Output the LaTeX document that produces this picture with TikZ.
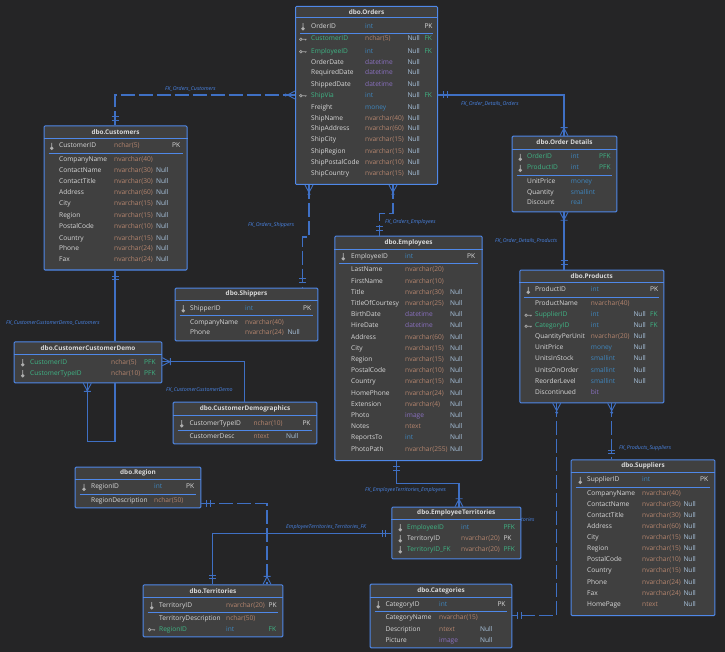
\documentclass[tikz,border=0pt]{standalone}
\usepackage{fontspec}
\setmainfont{Open Sans}
\usetikzlibrary{calc}
\definecolor{bgdark}{HTML}{252526}
\definecolor{boxfill}{HTML}{404040}
\definecolor{boxline}{HTML}{4F88E8}
\definecolor{linkblue}{HTML}{3F70C4}
\definecolor{labelblue}{HTML}{4A86E8}
\definecolor{fieldwhite}{HTML}{D9D9D9}
\definecolor{fieldgreen}{HTML}{3FB585}
\definecolor{typesalmon}{HTML}{B5856E}
\definecolor{typeblue}{HTML}{3F86BE}
\definecolor{typepurple}{HTML}{8A70C0}
\definecolor{nullblue}{HTML}{A9C4DE}
\tikzset{
  tablebox/.style={draw=boxline, fill=boxfill, line width=1pt, rounded corners=1pt, inner sep=0pt, anchor=north west},
  tablerule/.style={draw=boxline, line width=1pt},
  celltext/.style={inner sep=0pt, anchor=west, font=\fontsize{6.6}{7}\selectfont, text height=4.6pt, text depth=1.3pt},
  tabletitle/.style={inner sep=0pt, font=\fontsize{6.4}{7}\selectfont\bfseries, text=fieldwhite},
  vc/.style={celltext, text=typesalmon},
  nm/.style={celltext, text=typeblue},
  dt/.style={celltext, text=typepurple},
  nullcell/.style={celltext, text=nullblue},
  pkname/.style={celltext, text=fieldwhite},
  pkkey/.style={celltext, text=fieldwhite},
  pkicon/.style={draw=fieldwhite!80!black, fill=fieldwhite!80!black, line width=.8pt, insert path={+(0,-3.5) -- +(0,1.2) +(0,2) circle[radius=1.3pt]}},
  pfname/.style={celltext, text=fieldgreen},
  pfkey/.style={celltext, text=fieldgreen},
  pficon/.style={pkicon},
  fkname/.style={celltext, text=fieldgreen},
  fkkey/.style={celltext, text=fieldgreen},
  fkicon/.style={draw=gray!70, line width=.7pt, insert path={+(-2.2,0) circle[radius=1.3pt] +(-.9,0) -- +(3.5,0) +(2.5,0) -- +(2.5,1)}},
  noname/.style={celltext, text=fieldwhite},
  nokey/.style={celltext},
  noicon/.style={},
  fklink/.style={draw=linkblue, line width=1.2pt},
  fkdash/.style={fklink, dash pattern=on 14pt off 4pt},
  fklabel/.style={inner sep=0pt, anchor=west, text=labelblue, font=\fontsize{5.3}{6}\selectfont\itshape},
  markline/.style={draw=linkblue, line width=.9pt},
  pics/twobars/.style={code={\draw[markline] (5.5,-3.5) -- (5.5,3.5) (9,-3.5) -- (9,3.5);}},
  pics/crowbar/.style={code={\draw[markline] (0,-4) -- (7.5,0) -- (0,4) (8,-3.5) -- (8,3.5);}},
  pics/crowdot/.style={code={\draw[markline] (0,-4) -- (7.5,0) -- (0,4); \fill[linkblue] (9.3,0) circle[radius=1.6pt];}},
}
% name, left, top, width, height, title, title rule y, key rule y
\newcommand{\ertable}[8]{
  \node[tablebox, minimum width=#4pt, minimum height=#5pt] (#1) at (#2,#3) {};
  \draw[tablerule] (#1.west |- 0,#7) -- (#1.east |- 0,#7);
  \node[tabletitle] (#1-title) at ($(#1.north)!.5!(#1.north |- 0,#7)$) {#6};
  \draw[tablerule] ($(#1.west |- 0,#8)+(5,0)$) -- ($(#1.east |- 0,#8)+(-5,0)$);
}
% table, icon x, name x, type x, null x, key x, rows
\newcommand{\fieldrows}[7]{
  \foreach \rowY/\rowKind/\rowName/\rowType/\rowTone/\rowNull/\rowKey [count=\c] in {#7} {
    \path (#2,\rowY) [\rowKind icon];
    \node[\rowKind name] (#1-\c-name) at (#3,\rowY) {\rowName};
    \node[\rowTone] (#1-\c-type) at (#4,\rowY) {\rowType};
    \node[nullcell] (#1-\c-null) at (#5,\rowY) {\rowNull};
    \node[\rowKind key] (#1-\c-key) at (#6,\rowY) {\rowKey};
  }
}
\begin{document}
\begin{tikzpicture}[x=1pt, y=-1pt]
\path[use as bounding box, fill=bgdark] (0,0) rectangle (725,652);

\ertable{Orders}{295}{6}{142}{178}{dbo.Orders}{18}{33.3}
\fieldrows{Orders}{303}{311}{365}{407.3}{424.3}{
  26.7/pk/OrderID/int/nm//PK,
  39.3/fk/CustomerID/nchar(5)/vc/Null/FK,
  51.7/fk/EmployeeID/int/nm/Null/FK,
  62.7/no/OrderDate/datetime/dt/Null/,
  73.3/no/RequiredDate/datetime/dt/Null/,
  84.7/no/ShippedDate/datetime/dt/Null/,
  95.7/fk/ShipVia/int/nm/Null/FK,
  107.7/no/Freight/money/nm/Null/,
  118.7/no/ShipName/nvarchar(40)/vc/Null/,
  129.3/no/ShipAddress/nvarchar(60)/vc/Null/,
  140.3/no/ShipCity/nvarchar(15)/vc/Null/,
  151.7/no/ShipRegion/nvarchar(15)/vc/Null/,
  163.3/no/ShipPostalCode/nvarchar(10)/vc/Null/,
  174.3/no/ShipCountry/nvarchar(15)/vc/Null/}

\ertable{Customers}{43.5}{125.5}{143}{144}{dbo.Customers}{138.7}{153.3}
\fieldrows{Customers}{51.7}{59}{114}{156}{172}{
  146.3/pk/CustomerID/nchar(5)/vc//PK,
  159.7/no/CompanyName/nvarchar(40)/vc//,
  170.7/no/ContactName/nvarchar(30)/vc/Null/,
  182.3/no/ContactTitle/nvarchar(30)/vc/Null/,
  193.3/no/Address/nvarchar(60)/vc/Null/,
  204.3/no/City/nvarchar(15)/vc/Null/,
  215.7/no/Region/nvarchar(15)/vc/Null/,
  226.7/no/PostalCode/nvarchar(10)/vc/Null/,
  238.7/no/Country/nvarchar(15)/vc/Null/,
  249.3/no/Phone/nvarchar(24)/vc/Null/,
  260.3/no/Fax/nvarchar(24)/vc/Null/}

\ertable{Demo}{13.7}{341.3}{147.6}{41}{dbo.CustomerCustomerDemo}{354.7}{354.7}
\fieldrows{Demo}{22.7}{30}{111}{144}{144}{
  362.7/pf/CustomerID/nchar(5)/vc//PFK,
  373.7/pf/CustomerTypeID/nchar(10)/vc//PFK}

\ertable{Shippers}{174.7}{287.7}{142.6}{52.6}{dbo.Shippers}{300.7}{315.3}
\fieldrows{Shippers}{183.3}{190}{245}{287.3}{303}{
  308.7/pk/ShipperID/int/nm//PK,
  322.7/no/CompanyName/nvarchar(40)/vc//,
  333.3/no/Phone/nvarchar(24)/vc/Null/}

\ertable{Demographics}{172.7}{401.7}{143.6}{41.6}{dbo.CustomerDemographics}{415}{430.3}
\fieldrows{Demographics}{181.7}{189.3}{253.3}{286}{302.3}{
  423.7/pk/CustomerTypeID/nchar(10)/vc//PK,
  436.7/no/CustomerDesc/ntext/vc/Null/}

\ertable{Employees}{334.3}{235.7}{147.4}{224.3}{dbo.Employees}{249.7}{263.3}
\fieldrows{Employees}{343.3}{351}{405}{450}{467}{
  256.7/pk/EmployeeID/int/nm//PK,
  269.7/no/LastName/nvarchar(20)/vc//,
  281.7/no/FirstName/nvarchar(10)/vc//,
  292.7/no/Title/nvarchar(30)/vc/Null/,
  303.7/no/TitleOfCourtesy/nvarchar(25)/vc/Null/,
  314.7/no/BirthDate/datetime/dt/Null/,
  325.7/no/HireDate/datetime/dt/Null/,
  337.7/no/Address/nvarchar(60)/vc/Null/,
  348.7/no/City/nvarchar(15)/vc/Null/,
  359.7/no/Region/nvarchar(15)/vc/Null/,
  370.7/no/PostalCode/nvarchar(10)/vc/Null/,
  381.7/no/Country/nvarchar(15)/vc/Null/,
  393.7/no/HomePhone/nvarchar(24)/vc/Null/,
  404.7/no/Extension/nvarchar(4)/vc/Null/,
  415.7/no/Photo/image/dt/Null/,
  426.7/no/Notes/ntext/vc/Null/,
  437.7/no/ReportsTo/int/nm/Null/,
  449.7/no/PhotoPath/nvarchar(255)/vc/Null/}

\ertable{Details}{511.7}{135.7}{104.6}{75.6}{dbo.Order Details}{149.3}{175.7}
\fieldrows{Details}{520.3}{527}{570.7}{599}{599}{
  157.3/pf/OrderID/int/nm//PFK,
  168.3/pf/ProductID/int/nm//PFK,
  181.7/no/UnitPrice/money/nm//,
  192.7/no/Quantity/smallint/nm//,
  203.3/no/Discount/real/nm//}

\ertable{Products}{519.3}{269.7}{144}{132.6}{dbo.Products}{282.7}{297.3}
\fieldrows{Products}{528.3}{535}{590.7}{633.3}{650}{
  290.3/pk/ProductID/int/nm//PK,
  303.7/no/ProductName/nvarchar(40)/vc//,
  315.3/fk/SupplierID/int/nm/Null/FK,
  326.3/fk/CategoryID/int/nm/Null/FK,
  337.3/no/QuantityPerUnit/nvarchar(20)/vc/Null/,
  348.3/no/UnitPrice/money/nm/Null/,
  359.3/no/UnitsInStock/smallint/nm/Null/,
  371.3/no/UnitsOnOrder/smallint/nm/Null/,
  382.3/no/ReorderLevel/smallint/nm/Null/,
  393.3/no/Discontinued/bit/dt//}

\ertable{Suppliers}{570.7}{459.3}{143.6}{155.7}{dbo.Suppliers}{472.3}{487.3}
\fieldrows{Suppliers}{580.3}{587}{642}{683.3}{700}{
  480.3/pk/SupplierID/int/nm//PK,
  493.7/no/CompanyName/nvarchar(40)/vc//,
  504.7/no/ContactName/nvarchar(30)/vc/Null/,
  515.7/no/ContactTitle/nvarchar(30)/vc/Null/,
  527.3/no/Address/nvarchar(60)/vc/Null/,
  538.3/no/City/nvarchar(15)/vc/Null/,
  549.3/no/Region/nvarchar(15)/vc/Null/,
  560.3/no/PostalCode/nvarchar(10)/vc/Null/,
  571.3/no/Country/nvarchar(15)/vc/Null/,
  583.3/no/Phone/nvarchar(24)/vc/Null/,
  594.3/no/Fax/nvarchar(24)/vc/Null/,
  605.3/no/HomePage/ntext/vc/Null/}

\ertable{Region}{74.7}{466.7}{125.6}{40.6}{dbo.Region}{479.3}{494.3}
\fieldrows{Region}{84}{91}{154}{186}{186}{
  487.3/pk/RegionID/int/nm//PK,
  500.7/no/RegionDescription/nchar(50)/vc//}

\ertable{Territories}{142.7}{584.3}{139.6}{52}{dbo.Territories}{597.7}{612.3}
\fieldrows{Territories}{151.7}{159}{226}{268}{268.5}{
  605.7/pk/TerritoryID/nvarchar(20)/vc//PK,
  618.7/no/TerritoryDescription/nchar(50)/vc//,
  629.7/fk/RegionID/int/nm//FK}

\ertable{EmpTerr}{391.3}{506.7}{129}{51.6}{dbo.EmployeeTerritories}{519.3}{519.3}
\fieldrows{EmpTerr}{400.3}{407}{461}{503.3}{503.3}{
  527.7/pf/EmployeeID/int/nm//PFK,
  538.7/pk/TerritoryID/nvarchar(20)/vc//PK,
  549.7/pf/TerritoryID\_FK/nvarchar(20)/vc//PFK}

\ertable{Categories}{369.7}{583.7}{141.6}{63.6}{dbo.Categories}{597.3}{611.3}
\fieldrows{Categories}{378.3}{385.3}{439}{480}{497.3}{
  604.7/pk/CategoryID/int/nm//PK,
  617.7/no/CategoryName/nvarchar(15)/vc//,
  629.7/no/Description/ntext/vc/Null/,
  640.7/no/Picture/image/dt/Null/}

% connectors
\draw[fkdash] (Customers.north -| 115,0) |- (Orders.west |- 0,95);
\draw[fklink] (Orders.east |- 0,95) -| (Details.north -| 564,0);
\draw[fkdash] (Orders.south -| 393,0) -- (393,213.3) -- (379.3,213.3) -- (Employees.north -| 379.3,0);
\draw[fkdash] (Orders.south -| 309,0) -- (309,237) -- (302.7,237) -- (Shippers.north -| 302.7,0);
\draw[fklink] (Customers.south -| 115,0) -- (Demo.north -| 115,0);
\draw[fklink] (Demo.south -| 115,0) -- (115,441.7) -- (87.3,441.7) -- (Demo.south -| 87.3,0);
\draw[fklink] (Demographics.north -| 244.3,0) |- (Demo.east |- 0,361.7);
\draw[fklink] (Details.south -| 564,0) -- (Products.north -| 564,0);
\draw[fkdash] (Products.south -| 611.7,0) -- (Suppliers.north -| 611.7,0);
\draw[fkdash] (Products.south -| 556.7,0) |- (Categories.east |- 0,615.7);
\draw[fklink] (Employees.south -| 396.7,0) -- (396.7,483.3) -- (459,483.3) -- (EmpTerr.north -| 459,0);
\draw[fklink] (EmpTerr.west |- 0,533.3) -| (Territories.north -| 212.3,0);
\draw[fkdash] (Region.east |- 0,503.7) -| (Territories.north -| 267,0);

% line ends
\pic[rotate=90] at (Customers.north -| 115,0) {twobars};
\pic[rotate=180] at (Orders.west |- 0,95) {crowdot};
\pic at (Orders.east |- 0,95) {twobars};
\pic[rotate=90] at (Details.north -| 564,0) {crowbar};
\pic[rotate=-90] at (Orders.south -| 393,0) {crowdot};
\pic[rotate=90] at (Employees.north -| 379.3,0) {twobars};
\pic[rotate=-90] at (Orders.south -| 309,0) {crowdot};
\pic[rotate=90] at (Shippers.north -| 302.7,0) {twobars};
\pic[rotate=-90] at (Customers.south -| 115,0) {twobars};
\pic[rotate=-90] at (Demo.south -| 87.3,0) {crowbar};
\pic at (Demo.east |- 0,361.7) {crowbar};
\pic[rotate=-90] at (Details.south -| 564,0) {crowbar};
\pic[rotate=90] at (Products.north -| 564,0) {twobars};
\pic[rotate=-90] at (Products.south -| 611.7,0) {crowdot};
\pic[rotate=90] at (Suppliers.north -| 611.7,0) {twobars};
\pic[rotate=-90] at (Products.south -| 556.7,0) {crowdot};
\pic at (Categories.east |- 0,615.7) {twobars};
\pic[rotate=-90] at (Employees.south -| 396.7,0) {twobars};
\pic[rotate=90] at (EmpTerr.north -| 459,0) {crowbar};
\pic[rotate=180] at (EmpTerr.west |- 0,533.3) {twobars};
\pic[rotate=90] at (Territories.north -| 212.3,0) {twobars};
\pic at (Region.east |- 0,503.7) {twobars};
\pic[rotate=90] at (Territories.north -| 267,0) {crowbar};

% labels
\node[fklabel] (lblCustomers) at (165,89.3) {FK\_Orders\_Customers};
\node[fklabel] (lblShippers) at (248,225) {FK\_Orders\_Shippers};
\node[fklabel] (lblDemoCust) at (6,322.7) {FK\_CustomerCustomerDemo\_Customers};
\node[fklabel] (lblDemo) at (166,390) {FK\_CustomerCustomerDemo};
\node[fklabel] (lblEmployees) at (385,221.7) {FK\_Orders\_Employees};
\node[fklabel] (lblDetails) at (461,104) {FK\_Order\_Details\_Orders};
\node[fklabel] (lblProducts) at (495,241) {FK\_Order\_Details\_Products};
\node[fklabel] (lblSuppliers) at (619,448.3) {FK\_Products\_Suppliers};
\node[fklabel] (lblEmpTerr) at (365,490) {FK\_EmployeeTerritories\_Employees};
\node[fklabel] (lblTerrFK) at (286,527.3) {EmployeeTerritories\_Territories\_FK};
\node[fklabel] (lblHidden) at (521,520) {tories};
\end{tikzpicture}
\end{document}
